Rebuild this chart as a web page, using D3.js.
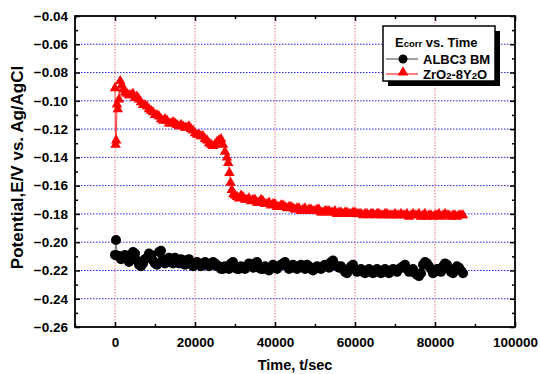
<!DOCTYPE html>
<html>
<head>
<meta charset="utf-8">
<script src="https://cdn.jsdelivr.net/npm/d3@7"></script>
<style>
  body { margin: 0; background: #fff; }
  svg text { font-family: "Liberation Sans", Arial, sans-serif; font-weight: bold; }
</style>
</head>
<body>
<script>
// ---- data ----
// ALBC3 BM (black circles), main readings
var blackT = [0, 250, 500, 1000, 2000, 3000, 4000, 5000, 6000, 7000, 8000, 9000,
  10000, 11000, 12000, 13000, 14000, 15000, 16000, 17000, 18000, 19000,
  20000, 21000, 22000, 23000, 24000, 25000, 26000, 27000, 28000, 29000,
  30000, 31000, 32000, 33000, 34000, 35000, 36000, 37000, 38000, 39000,
  40000, 41000, 42000, 43000, 44000, 45000, 46000, 47000, 48000, 49000,
  50000, 51000, 52000, 53000, 54000, 55000, 56000, 57000, 58000, 59000,
  60000, 61000, 62000, 63000, 64000, 65000, 66000, 67000, 68000, 69000,
  70000, 71000, 72000, 73000, 74000, 75000, 76000, 77000, 78000, 79000,
  80000, 81000, 82000, 83000, 84000, 85000, 86000, 87000];
var blackV = [-0.209, -0.1985, -0.2095, -0.210, -0.211, -0.212, -0.209, -0.208, -0.216, -0.215, -0.211, -0.209,
  -0.215, -0.207, -0.212, -0.214, -0.213, -0.211, -0.215, -0.213, -0.213, -0.215,
  -0.216, -0.215, -0.216, -0.215, -0.216, -0.215, -0.217, -0.219, -0.218, -0.215,
  -0.217, -0.219, -0.218, -0.217, -0.216, -0.215, -0.218, -0.219, -0.219, -0.218,
  -0.217, -0.217, -0.215, -0.217, -0.218, -0.218, -0.217, -0.217, -0.216, -0.219,
  -0.219, -0.218, -0.217, -0.216, -0.214, -0.216, -0.218, -0.219, -0.222, -0.217,
  -0.219, -0.220, -0.221, -0.220, -0.221, -0.220, -0.221, -0.220, -0.221, -0.220,
  -0.220, -0.219, -0.217, -0.219, -0.220, -0.222, -0.224, -0.216, -0.215, -0.219,
  -0.221, -0.219, -0.217, -0.216, -0.221, -0.219, -0.218, -0.222];
// ALBC3 BM, in-between readings
var blackT2 = [1500, 2500, 3500, 4500, 5500, 6500, 7500, 8500, 9500,
  10500, 11500, 12500, 13500, 14500, 15500, 16500, 17500, 18500, 19500,
  20500, 21500, 22500, 23500, 24500, 25500, 26500, 27500, 28500, 29500,
  30500, 31500, 32500, 33500, 34500, 35500, 36500, 37500, 38500, 39500,
  40500, 41500, 42500, 43500, 44500, 45500, 46500, 47500, 48500, 49500,
  50500, 51500, 52500, 53500, 54500, 55500, 56500, 57500, 58500, 59500,
  60500, 61500, 62500, 63500, 64500, 65500, 66500, 67500, 68500, 69500,
  70500, 71500, 72500, 73500, 74500, 75500, 76500, 77500, 78500, 79500,
  80500, 81500, 82500, 83500, 84500, 85500, 86500];
var blackV2 = [-0.212, -0.209, -0.214, -0.207, -0.213, -0.217, -0.212, -0.208, -0.213,
  -0.216, -0.206, -0.215, -0.211, -0.215, -0.213, -0.212, -0.216, -0.212, -0.217,
  -0.214, -0.217, -0.214, -0.217, -0.214, -0.217, -0.219, -0.217, -0.219, -0.214,
  -0.219, -0.217, -0.219, -0.215, -0.218, -0.214, -0.219, -0.217, -0.220, -0.216,
  -0.219, -0.216, -0.214, -0.219, -0.216, -0.219, -0.216, -0.219, -0.217, -0.220,
  -0.217, -0.219, -0.216, -0.218, -0.213, -0.217, -0.217, -0.221, -0.220, -0.216,
  -0.221, -0.219, -0.222, -0.219, -0.222, -0.219, -0.222, -0.219, -0.222, -0.219,
  -0.221, -0.218, -0.216, -0.221, -0.219, -0.223, -0.222, -0.214, -0.217, -0.222,
  -0.219, -0.221, -0.215, -0.219, -0.222, -0.217, -0.220];

// ZrO2-8Y2O (red triangles), main readings
var redT = [0, 150, 300, 500, 700, 1000, 1300, 1700, 2100, 2500, 3000, 3500,
  4000, 5000, 6000, 7000, 8000, 9000, 10000, 11000, 12000, 13000, 14000, 15000,
  16000, 17000, 18000, 19000, 20000, 21000, 22000, 23000, 24000, 25000, 26000, 27000,
  27500, 28000, 28300, 28600, 28900, 29200, 29600,
  30000, 31000, 32000, 33000, 34000, 35000, 36000, 37000, 38000, 39000,
  40000, 41000, 42000, 43000, 44000, 45000, 46000, 47000, 48000, 49000,
  50000, 51000, 52000, 53000, 54000, 55000, 56000, 57000, 58000, 59000,
  60000, 61000, 62000, 63000, 64000, 65000, 66000, 67000, 68000, 69000,
  70000, 71000, 72000, 73000, 74000, 75000, 76000, 77000, 78000, 79000,
  80000, 81000, 82000, 83000, 84000, 85000, 86000, 87000];
var redV = [-0.091, -0.131, -0.128, -0.1025, -0.106, -0.099, -0.086, -0.089, -0.092, -0.094, -0.095, -0.096,
  -0.096, -0.098, -0.099, -0.103, -0.104, -0.107, -0.110, -0.111, -0.114, -0.114, -0.116, -0.116,
  -0.118, -0.118, -0.119, -0.120, -0.123, -0.124, -0.125, -0.128, -0.131, -0.131, -0.128, -0.131,
  -0.136, -0.140, -0.144, -0.151, -0.158, -0.163, -0.166,
  -0.167, -0.169, -0.168, -0.170, -0.171, -0.170, -0.172, -0.171, -0.173, -0.174,
  -0.173, -0.175, -0.174, -0.176, -0.175, -0.177, -0.176, -0.177, -0.178, -0.177,
  -0.178, -0.177, -0.179, -0.178, -0.179, -0.178, -0.179, -0.180, -0.179, -0.180,
  -0.179, -0.180, -0.181, -0.180, -0.180, -0.181, -0.180, -0.181, -0.180, -0.181,
  -0.180, -0.181, -0.181, -0.180, -0.181, -0.181, -0.180, -0.181, -0.182, -0.181,
  -0.181, -0.180, -0.181, -0.181, -0.182, -0.181, -0.181, -0.181];
// ZrO2-8Y2O, in-between readings
var redT2 = [4500, 5500, 6500, 7500, 8500, 9500, 10500, 11500, 12500, 13500, 14500,
  15500, 16500, 17500, 18500, 19500, 20500, 21500, 22500, 23500, 24500, 25500, 26500,
  30500, 31500, 32500, 33500, 34500, 35500, 36500, 37500, 38500, 39500,
  40500, 41500, 42500, 43500, 44500, 45500, 46500, 47500, 48500, 49500,
  50500, 51500, 52500, 53500, 54500, 55500, 56500, 57500, 58500, 59500,
  60500, 61500, 62500, 63500, 64500, 65500, 66500, 67500, 68500, 69500,
  70500, 71500, 72500, 73500, 74500, 75500, 76500, 77500, 78500, 79500,
  80500, 81500, 82500, 83500, 84500, 85500, 86500];
var redV2 = [-0.095, -0.097, -0.101, -0.103, -0.106, -0.108, -0.110, -0.113, -0.113, -0.116, -0.115,
  -0.117, -0.117, -0.119, -0.118, -0.121, -0.124, -0.125, -0.127, -0.130, -0.132, -0.129, -0.127,
  -0.168, -0.167, -0.170, -0.169, -0.170, -0.172, -0.170, -0.173, -0.172, -0.173,
  -0.175, -0.174, -0.175, -0.175, -0.176, -0.176, -0.178, -0.176, -0.177, -0.178,
  -0.177, -0.179, -0.178, -0.178, -0.179, -0.180, -0.179, -0.179, -0.180, -0.179,
  -0.180, -0.180, -0.180, -0.181, -0.180, -0.180, -0.181, -0.180, -0.181, -0.181,
  -0.181, -0.180, -0.181, -0.182, -0.180, -0.181, -0.182, -0.180, -0.181, -0.182,
  -0.181, -0.182, -0.180, -0.181, -0.181, -0.182, -0.181];

// ticks
var xMajor = [0, 20000, 40000, 60000, 80000, 100000];
var xMinor = [-10000, 10000, 30000, 50000, 70000, 90000];
var yMajor = [-0.04, -0.06, -0.08, -0.10, -0.12, -0.14, -0.16, -0.18, -0.20, -0.22, -0.24, -0.26];
var yMinor = [-0.05, -0.07, -0.09, -0.11, -0.13, -0.15, -0.17, -0.19, -0.21, -0.23, -0.25];
var xGrid = [0, 20000, 40000, 60000, 80000];
var yGrid = [-0.06, -0.08, -0.10, -0.12, -0.14, -0.16, -0.18, -0.20, -0.22, -0.24];

//---------setup plot-----------------------//
var margin = { top: 16, right: 25, bottom: 47, left: 75 },
    width = 540 - margin.left - margin.right,
    height = 374 - margin.top - margin.bottom;

var x = d3.scaleLinear().domain([-10000, 100000]).range([0, width]);
var y = d3.scaleLinear().domain([-0.26, -0.04]).range([height, 0]);

var svg = d3.select("body").append("svg")
    .attr("width", 540)
    .attr("height", 374);

var g = svg.append("g")
    .attr("transform", "translate(" + margin.left + "," + margin.top + ")");

// gridlines
g.append("g").selectAll("line")
    .data(yGrid).enter().append("line")
    .attr("x1", 0).attr("x2", width)
    .attr("y1", function(d) { return y(d); })
    .attr("y2", function(d) { return y(d); })
    .style("stroke", "#2222ee")
    .style("stroke-width", 1)
    .style("stroke-dasharray", "1.5,1.5");

g.append("g").selectAll("line")
    .data(xGrid).enter().append("line")
    .attr("y1", 0).attr("y2", height)
    .attr("x1", function(d) { return x(d); })
    .attr("x2", function(d) { return x(d); })
    .style("stroke", "#ff7070")
    .style("stroke-width", 1)
    .style("stroke-dasharray", "1.5,1.5");

// series: join both reading sets, sorted by time
function pairs(ts, vs) { return ts.map(function(t, i) { return { t: t, v: vs[i] }; }); }
var black = pairs(blackT, blackV).concat(pairs(blackT2, blackV2))
    .sort(function(a, b) { return a.t - b.t; });
var red = pairs(redT, redV).concat(pairs(redT2, redV2))
    .sort(function(a, b) { return a.t - b.t; });

var line = d3.line()
    .x(function(d) { return x(d.t); })
    .y(function(d) { return y(d.v); });

g.append("path")
    .attr("d", line(black))
    .style("fill", "none")
    .style("stroke", "#808080")
    .style("stroke-width", 1);

g.append("g").selectAll("circle")
    .data(black).enter().append("circle")
    .attr("cx", function(d) { return x(d.t); })
    .attr("cy", function(d) { return y(d.v); })
    .attr("r", 5)
    .style("fill", "#000");

g.append("path")
    .attr("d", line(red))
    .style("fill", "none")
    .style("stroke", "#ff4040")
    .style("stroke-width", 1);

var tri = d3.symbol().type(d3.symbolTriangle).size(48);
g.append("g").selectAll("path")
    .data(red).enter().append("path")
    .attr("d", tri)
    .attr("transform", function(d) { return "translate(" + x(d.t) + "," + y(d.v) + ")"; })
    .style("fill", "#ff0000");

// axes - ticks point inward
function styleAxis(sel) {
    sel.select(".domain").remove();
    sel.selectAll("line").style("stroke", "#000").style("stroke-width", 1.5);
    sel.selectAll("text").style("font-size", "13.5px").style("fill", "#000");
}

g.append("g").attr("transform", "translate(0," + height + ")")
    .call(d3.axisBottom(x).tickValues(xMajor).tickSize(-5).tickPadding(10).tickFormat(d3.format("d")))
    .call(styleAxis);
g.append("g").attr("transform", "translate(0," + height + ")")
    .call(d3.axisBottom(x).tickValues(xMinor).tickSize(-3).tickFormat(""))
    .call(styleAxis);
g.append("g")
    .call(d3.axisTop(x).tickValues(xMajor).tickSize(-5).tickFormat(""))
    .call(styleAxis);
g.append("g")
    .call(d3.axisTop(x).tickValues(xMinor).tickSize(-3).tickFormat(""))
    .call(styleAxis);

g.append("g")
    .call(d3.axisLeft(y).tickValues(yMajor).tickSize(-5).tickPadding(7).tickFormat(d3.format(".2f")))
    .call(styleAxis);
g.append("g")
    .call(d3.axisLeft(y).tickValues(yMinor).tickSize(-3).tickFormat(""))
    .call(styleAxis);
g.append("g").attr("transform", "translate(" + width + ",0)")
    .call(d3.axisRight(y).tickValues(yMajor).tickSize(-5).tickFormat(""))
    .call(styleAxis);
g.append("g").attr("transform", "translate(" + width + ",0)")
    .call(d3.axisRight(y).tickValues(yMinor).tickSize(-3).tickFormat(""))
    .call(styleAxis);

// frame
g.append("rect")
    .attr("width", width).attr("height", height)
    .style("fill", "none")
    .style("stroke", "#000")
    .style("stroke-width", 1.8);

// axis titles
svg.append("text")
    .attr("x", margin.left + x(45000))
    .attr("y", 370)
    .attr("text-anchor", "middle")
    .style("font-size", "14.5px")
    .text("Time, t/sec");

svg.append("text")
    .attr("transform", "translate(23," + 167.5 + ") rotate(-90)")
    .attr("text-anchor", "middle")
    .style("font-size", "17px")
    .text("Potential,E/V vs. Ag/AgCl");

// legend
var lg = svg.append("g").attr("transform", "translate(383,26)");
lg.append("rect").attr("x", 5).attr("y", 5).attr("width", 112).attr("height", 55).style("fill", "#000");
lg.append("rect").attr("width", 112).attr("height", 55)
    .style("fill", "#fff").style("stroke", "#000").style("stroke-width", 1.5);

var t1 = lg.append("text").attr("x", 12).attr("y", 21).style("font-size", "13px");
t1.append("tspan").text("E");
t1.append("tspan").style("font-size", "9.5px").text("corr");
t1.append("tspan").text(" vs. Time");

lg.append("line").attr("x1", 3).attr("x2", 35).attr("y1", 33).attr("y2", 33)
    .style("stroke", "#808080").style("stroke-width", 1.5);
lg.append("circle").attr("cx", 20).attr("cy", 33).attr("r", 4.5).style("fill", "#000");
lg.append("text").attr("x", 40).attr("y", 38).style("font-size", "13px").text("ALBC3 BM");

lg.append("line").attr("x1", 3).attr("x2", 35).attr("y1", 48).attr("y2", 48)
    .style("stroke", "#ff0000").style("stroke-width", 1);
lg.append("path").attr("d", d3.symbol().type(d3.symbolTriangle).size(50))
    .attr("transform", "translate(20,46.5)").style("fill", "#ff0000");
var t3 = lg.append("text").attr("x", 40).attr("y", 53).style("font-size", "13px");
t3.append("tspan").text("ZrO");
t3.append("tspan").style("font-size", "9.5px").text("2");
t3.append("tspan").text("-8Y");
t3.append("tspan").style("font-size", "9.5px").text("2");
t3.append("tspan").text("O");
</script>
</body>
</html>
